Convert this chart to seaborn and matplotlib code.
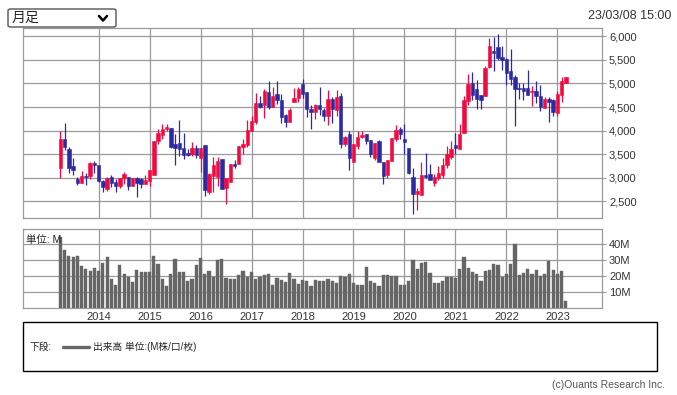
import matplotlib
matplotlib.use("Agg")
import matplotlib.pyplot as plt
import numpy as np
import pandas as pd
import seaborn as sns
from matplotlib.patches import FancyBboxPatch, Rectangle
from matplotlib.lines import Line2D
from matplotlib.ticker import FuncFormatter

# monthly candles, 2013-04 .. 2023-03
start_month = "2013-04"
opens = [3200, 3830, 3615, 3255, 2980, 2881, 3043, 3029, 3318, 3262,
         2937, 2754, 3022, 2916, 2825, 3000, 3022, 2817, 2987, 2966,
         2860, 2923, 3050, 3784, 3900, 4040, 4060, 3706, 3742, 3622,
         3530, 3495, 3636, 3424, 3700, 2704, 3043, 3022, 3403, 2775,
         2916, 3290, 3283, 3650, 3692, 3990, 4180, 4580, 4546, 4815,
         4500, 4780, 4650, 4330, 4190, 4600, 4700, 4985, 4815, 4450,
         4385, 4540, 4440, 4300, 4675, 4430, 4740, 3720, 3918, 3340,
         3670, 3855, 3932, 3800, 3424, 3777, 3340, 3050, 3353, 3812,
         4030, 3826, 3636, 3022, 2648, 2627, 3057, 3085, 2895, 3000,
         3050, 3262, 3445, 3685, 3600, 3946, 4638, 5005, 4885, 4745,
         4723, 5350, 5695, 5774, 5560, 5510, 5265, 5140, 4905, 4905,
         4905, 4815, 4850, 4730, 4480, 4680, 4640, 4375, 4745, 5005]
highs = [4000, 4165, 3660, 3424, 3015, 3142, 3093, 3330, 3354, 3270,
         2950, 3015, 3050, 2966, 3000, 3128, 3022, 3000, 3022, 3000,
         3064, 3160, 3790, 4024, 4130, 4150, 4060, 3918, 4215, 3953,
         3600, 3763, 3700, 3650, 3700, 3093, 3445, 3445, 3403, 3000,
         3297, 3375, 3678, 3820, 4215, 4320, 4800, 4730, 4885, 5050,
         4920, 5050, 4780, 4360, 4470, 4900, 4930, 5100, 4815, 4540,
         4570, 4920, 4470, 4860, 4720, 4860, 4800, 3883, 3996, 3710,
         3990, 4000, 3932, 3800, 3742, 3800, 3340, 3367, 3834, 4116,
         4073, 4144, 3636, 3212, 2790, 3332, 3523, 3297, 3071, 3255,
         3424, 3670, 3777, 3953, 4130, 4744, 5210, 5250, 5070, 4745,
         5380, 5965, 5985, 6050, 5790, 5540, 5720, 5175, 5010, 5010,
         5290, 4950, 5050, 4960, 4715, 4715, 4675, 4835, 5140, 5140]
lows = [3000, 3580, 3093, 3050, 2838, 2880, 2838, 2966, 3107, 2915,
        2690, 2718, 2810, 2690, 2775, 2874, 2747, 2817, 2598, 2775,
        2860, 2817, 3050, 3713, 3830, 4000, 3640, 3262, 3452, 3389,
        3460, 3460, 3424, 3128, 2606, 2648, 2704, 2824, 2754, 2436,
        2916, 3212, 3283, 3510, 3650, 3990, 4130, 4470, 4260, 4455,
        4500, 4570, 4165, 4073, 4180, 4600, 4600, 4690, 4285, 4025,
        4236, 4330, 4200, 4110, 4165, 4300, 3622, 3670, 3156, 3325,
        3600, 3850, 3707, 3440, 3367, 3340, 2860, 3000, 3353, 3777,
        3826, 3509, 3071, 2239, 2309, 2627, 3000, 2944, 2832, 2944,
        3000, 3200, 3389, 3509, 3600, 3946, 4540, 4650, 4450, 4450,
        4723, 5330, 5260, 5490, 5295, 4960, 4960, 4090, 4660, 4640,
        4750, 4530, 4590, 4410, 4480, 4190, 4320, 4320, 4610, 5005]
closes = [3830, 3657, 3212, 3170, 2881, 3043, 3008, 3318, 3262, 2923,
          2796, 3000, 2880, 2825, 3000, 3085, 2817, 2987, 2880, 2860,
          2958, 3156, 3784, 3946, 4040, 4080, 3657, 3622, 3600, 3480,
          3474, 3636, 3474, 3636, 2733, 3085, 3262, 3354, 2754, 3000,
          3297, 3255, 3678, 3720, 4003, 4200, 4590, 4510, 4850, 4500,
          4730, 4640, 4285, 4180, 4430, 4700, 4890, 4785, 4450, 4400,
          4540, 4450, 4300, 4675, 4450, 4710, 3706, 3870, 3424, 3706,
          3870, 3897, 3777, 3495, 3742, 3340, 3043, 3367, 3834, 4003,
          3918, 3750, 3093, 2648, 2719, 3057, 3015, 2944, 3022, 3093,
          3262, 3495, 3615, 3622, 3918, 4638, 4990, 4765, 4660, 4650,
          5330, 5795, 5647, 5540, 5490, 5230, 5090, 4890, 4885, 4850,
          4765, 4850, 4730, 4500, 4680, 4600, 4390, 4780, 5060, 5140]
volume_m = [44.4, 36.0, 32.3, 31.7, 32.3, 26.0, 24.2, 22.9, 24.8, 22.9,
            27.9, 31.7, 17.9, 14.2, 26.7, 21.0, 19.2, 16.0, 23.5, 22.3,
            22.3, 22.3, 32.3, 27.3, 17.9, 13.5, 21.0, 30.4, 22.3, 22.3,
            16.7, 17.9, 26.7, 31.0, 21.0, 22.9, 19.2, 29.8, 30.4, 18.5,
            17.9, 17.9, 20.4, 22.9, 19.2, 22.3, 17.9, 19.2, 20.4, 21.0,
            14.2, 18.5, 17.3, 16.0, 21.7, 17.9, 14.8, 17.3, 16.7, 13.5,
            17.3, 16.7, 16.7, 17.9, 17.0, 15.4, 19.8, 19.2, 21.0, 15.4,
            14.2, 14.2, 25.4, 16.7, 15.4, 13.5, 20.4, 20.4, 19.8, 19.8,
            14.2, 14.2, 16.7, 29.8, 24.2, 27.9, 28.5, 21.7, 15.4, 15.4,
            16.7, 19.2, 19.2, 18.5, 24.2, 31.7, 24.8, 22.3, 21.0, 16.7,
            22.9, 23.5, 27.3, 26.7, 19.2, 21.0, 27.3, 39.8, 20.4, 21.7,
            24.2, 21.0, 23.5, 19.8, 21.0, 29.2, 23.5, 21.0, 22.9, 4.2]
price_ticks = [2500, 3000, 3500, 4000, 4500, 5000, 5500, 6000]
volume_ticks = [10, 20, 30, 40]

months = pd.period_range(start_month, periods=len(opens), freq="M")
df = pd.DataFrame({"open": opens, "high": highs, "low": lows,
                   "close": closes, "vol": volume_m})
df["idx"] = np.arange(len(df))
jan = [i for i, p in enumerate(months) if p.month == 1]
jan_labels = [str(months[i].year) for i in jan]

sns.set_style("white")
plt.rcParams['font.family'] = ['Liberation Sans', 'Noto Sans CJK JP', 'DejaVu Sans']

RED = "#f2093f"
BLUE = "#2b29a3"
GRID = "#9a9a9a"
W, H = 677, 395

fig = plt.figure(figsize=(W / 100, H / 100), dpi=100)


def box(l, t, r, b):
    return [l / W, 1 - b / H, (r - l) / W, (b - t) / H]


ax_p = fig.add_axes(box(23, 28, 602, 218))
ax_v = fig.add_axes(box(23, 229, 602, 308))
xlim = (-8.8, 127.5)

# candles
up = df["close"] >= df["open"]
cols = np.where(up, RED, BLUE)
ax_p.vlines(df["idx"], df["low"], df["high"], colors=cols, lw=0.9, zorder=3)
body_lo = np.minimum(df["open"], df["close"])
body_h = np.maximum(np.abs(df["close"] - df["open"]), 14)
ax_p.bar(df["idx"], body_h, bottom=body_lo, width=0.8, color=cols,
         edgecolor=cols, linewidth=0.4, zorder=4)

ax_p.set_xlim(*xlim)
ax_p.set_ylim(2147, 6175)
ax_p.set_xticks(jan)
ax_p.set_xticklabels([])
ax_p.set_yticks(price_ticks)
ax_p.yaxis.set_major_formatter(FuncFormatter(lambda v, p: f"{int(v):,}"))

# volume
sns.barplot(data=df, x="idx", y="vol", native_scale=True, color="#666666",
            saturation=1, width=0.75, errorbar=None, ax=ax_v, zorder=3,
            edgecolor="#666666", linewidth=0.3)
ax_v.set_xlim(*xlim)
ax_v.set_ylim(0, 49.2)
ax_v.set_xlabel("")
ax_v.set_ylabel("")
ax_v.set_xticks(jan)
ax_v.set_xticklabels(jan_labels)
ax_v.set_yticks(volume_ticks)
ax_v.set_yticklabels([f"{v}M" for v in volume_ticks])
ax_v.text(0.006, 0.93, "単位: M", transform=ax_v.transAxes, fontsize=7.5,
          va="top", ha="left", zorder=5)

for ax in (ax_p, ax_v):
    ax.set_axisbelow(True)
    ax.grid(True, color=GRID, lw=0.9)
    for s in ax.spines.values():
        s.set_color(GRID)
        s.set_linewidth(0.9)
    ax.yaxis.tick_right()
    ax.tick_params(axis="y", length=3, width=0.8, color=GRID, labelsize=8,
                   labelcolor="#333333", pad=2)
    ax.tick_params(axis="x", length=0, labelsize=8, labelcolor="#333333", pad=3)

# header: dropdown and timestamp
fig.patches.append(FancyBboxPatch((8 / W, 1 - 27 / H), 108 / W, 18 / H,
                                  boxstyle="round,pad=0,rounding_size=0.004",
                                  transform=fig.transFigure, fc="white",
                                  ec="#555555", lw=1))
fig.text(12 / W, 1 - 18 / H, "月足", fontsize=10, va="center", ha="left")
fig.lines.append(Line2D([99 / W, 103 / W, 107 / W],
                        [1 - 16 / H, 1 - 20.5 / H, 1 - 16 / H],
                        transform=fig.transFigure, color="black", lw=1.8))
fig.text(671 / W, 1 - 16 / H, "23/03/08 15:00", fontsize=9, ha="right",
         va="center", color="#333333")

# footer legend box
fig.patches.append(Rectangle((23 / W, 1 - 371 / H), 634 / W, 49 / H,
                             transform=fig.transFigure, fill=False,
                             ec="black", lw=1))
fig.text(30 / W, 1 - 347 / H, "下段:", fontsize=7, va="center", ha="left")
fig.lines.append(Line2D([63 / W, 89 / W], [1 - 347 / H, 1 - 347 / H],
                        transform=fig.transFigure, color="#666666", lw=2.4))
fig.text(93 / W, 1 - 347 / H, "出来高 単位:(M株/口/枚)", fontsize=7,
         va="center", ha="left")
fig.text(665 / W, 1 - 385 / H, "(c)Ouants Research Inc.", fontsize=7.5,
         ha="right", va="center", color="#555555")

fig.savefig("out.png", dpi=100)
